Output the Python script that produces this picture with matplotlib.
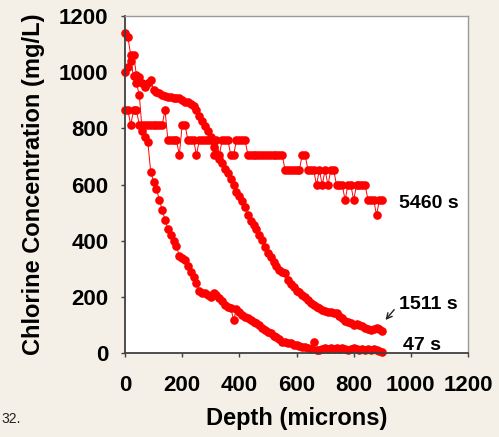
import matplotlib.pyplot as plt
import numpy as np

# depth in microns (same grid for all three profiles)
depth = [0, 10, 20, 30, 40, 50, 60, 70, 80, 90,
         100, 110, 120, 130, 140, 150, 160, 170, 180, 190,
         200, 210, 220, 230, 240, 250, 260, 270, 280, 290,
         300, 310, 320, 330, 340, 350, 360, 370, 380, 390,
         400, 410, 420, 430, 440, 450, 460, 470, 480, 490,
         500, 510, 520, 530, 540, 550, 560, 570, 580, 590,
         600, 610, 620, 630, 640, 650, 660, 670, 680, 690,
         700, 710, 720, 730, 740, 750, 760, 770, 780, 790,
         800, 810, 820, 830, 840, 850, 860, 870, 880, 890, 900]

# chlorine concentration (mg/L)
conc_47 = [1000, 1020, 1040, 985, 960, 920, 790, 770, 750, 645,
           610, 585, 545, 510, 475, 440, 420, 400, 380, 345,
           340, 330, 310, 290, 270, 250, 220, 215, 212, 205,
           200, 215, 205, 195, 185, 172, 165, 160, 118, 155,
           145, 135, 128, 125, 118, 112, 107, 100, 90, 82,
           75, 70, 62, 57, 50, 40, 38, 36, 35, 30,
           28, 25, 22, 20, 18, 16, 38, 10, 12, 15,
           18, 15, 18, 16, 18, 14, 18, 15, 12, 16,
           18, 14, 12, 16, 12, 15, 10, 16, 12, 8, 5]

conc_1511 = [1139, 1125, 1061, 1061, 990, 982, 960, 947, 961, 972,
             936, 929, 925, 918, 915, 912, 911, 909, 907, 907,
             900, 895, 892, 888, 878, 866, 845, 825, 808, 790,
             770, 735, 710, 690, 675, 655, 640, 620, 598, 575,
             558, 540, 520, 490, 470, 456, 440, 420, 402, 377,
             355, 342, 325, 310, 295, 290, 285, 260, 245, 235,
             222, 217, 206, 198, 189, 178, 171, 164, 160, 153,
             150, 146, 146, 144, 142, 130, 125, 115, 110, 107,
             100, 105, 100, 95, 89, 85, 82, 85, 89, 85, 80]

conc_5460 = [865, 865, 812, 865, 865, 812, 812, 812, 812, 812,
             812, 812, 812, 812, 865, 758, 758, 758, 758, 705,
             812, 812, 758, 758, 758, 705, 758, 758, 758, 758,
             758, 705, 758, 705, 758, 758, 758, 705, 705, 758,
             758, 758, 758, 705, 705, 705, 705, 705, 705, 705,
             705, 705, 705, 705, 705, 705, 652, 652, 652, 652,
             652, 652, 705, 705, 652, 652, 652, 598, 652, 598,
             652, 598, 652, 652, 598, 598, 598, 545, 598, 598,
             545, 598, 598, 598, 598, 545, 545, 545, 491, 545, 545]

labels = ['47 s', '1511 s', '5460 s']

bg = '#f4f0e7'
fig = plt.figure(figsize=(4.99, 4.37), dpi=100, facecolor=bg)
ax = fig.add_axes([0.2505, 0.1922, 0.6874, 0.7712])
ax.set_facecolor('white')

for y in [conc_47, conc_1511, conc_5460]:
    ax.plot(depth, y, color='red', linewidth=0.7, marker='o',
            markersize=6.2, markeredgewidth=0, clip_on=False)

ax.set_xlim(0, 1200)
ax.set_ylim(0, 1200)
ax.set_xticks(np.arange(0, 1201, 200))
ax.set_yticks(np.arange(0, 1201, 200))

ax.tick_params(direction='out', length=3, width=1, colors='#404040',
               labelcolor='black', labelsize=16)
ax.tick_params(axis='x', pad=13)
ax.tick_params(axis='y', pad=9)
for lbl in ax.get_xticklabels() + ax.get_yticklabels():
    lbl.set_fontweight('bold')
    lbl.set_family('Liberation Sans')

for side in ['left', 'bottom']:
    ax.spines[side].set_color('#404040')
    ax.spines[side].set_linewidth(1.3)
for side in ['top', 'right']:
    ax.spines[side].set_color('#9a9a9a')
    ax.spines[side].set_linewidth(1.0)

font = dict(family='Liberation Sans', weight='bold')
ax.set_xlabel('Depth (microns)', fontsize=17, labelpad=8, **font)
ax.set_ylabel('Chlorine Concentration (mg/L)', fontsize=17, labelpad=10, **font)

# curve labels
ax.text(960, 534, labels[2], fontsize=14, va='center', ha='left', **font)
ax.text(960, 171, labels[1], fontsize=14, va='center', ha='left', **font)
ax.text(973, 28, labels[0], fontsize=14, va='center', ha='left', **font)
ax.annotate('', xy=(905, 110), xytext=(948, 162),
            arrowprops=dict(arrowstyle='->', color='#222222', lw=1))

fig.text(0.002, 0.033, '32.', fontsize=10, color='#222222', family='Liberation Sans')

plt.savefig('out.png', dpi=100, facecolor=bg)
